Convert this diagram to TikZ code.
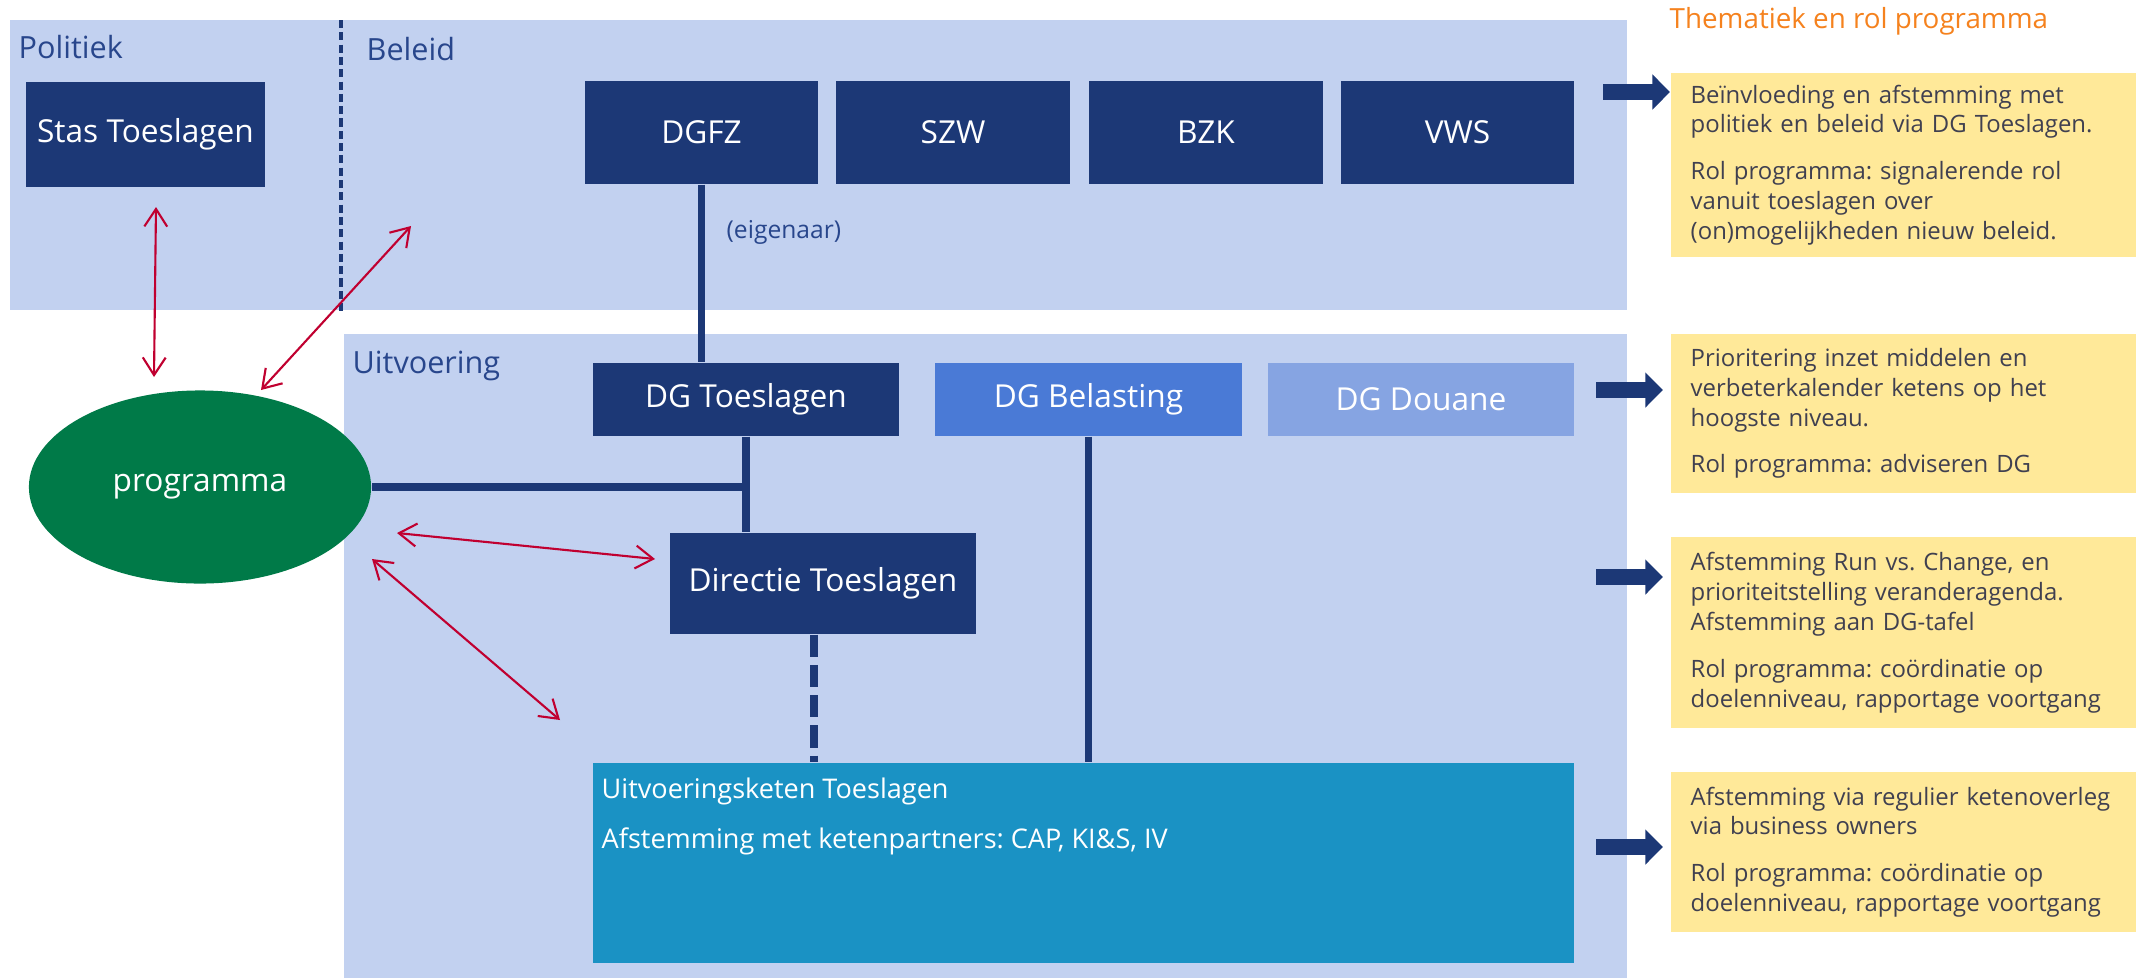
\documentclass[tikz,border=0pt]{standalone}
\usepackage{fontspec}
\setmainfont{Open Sans}
\usepackage{xcolor}
\usetikzlibrary{shapes.geometric,arrows.meta}
\definecolor{bandblue}{RGB}{194,209,240}
\definecolor{navy}{RGB}{28,56,118}
\definecolor{belblue}{RGB}{74,122,214}
\definecolor{doublue}{RGB}{134,164,226}
\definecolor{ketenblue}{RGB}{26,146,196}
\definecolor{proggreen}{RGB}{0,122,72}
\definecolor{arrowred}{RGB}{192,0,48}
\definecolor{geel}{RGB}{255,233,153}
\definecolor{geeltext}{RGB}{64,64,80}
\definecolor{titleorange}{RGB}{245,130,30}
\definecolor{labelblue}{RGB}{40,70,140}
\frenchspacing

\begin{document}
\begin{tikzpicture}[x=0.01cm, y=-0.01cm,
  box/.style={rectangle, fill=navy, text=white, inner sep=0pt, minimum height=1.03cm, font=\fontsize{9}{11}\selectfont},
  dgbox/.style={rectangle, text=white, inner sep=0pt, minimum width=3.06cm, minimum height=0.73cm, font=\fontsize{9}{11}\selectfont},
  lbl/.style={anchor=base west, inner sep=0pt, text=labelblue, font=\fontsize{8.7}{10}\selectfont},
  geel/.style={rectangle, fill=geel, anchor=west, text=geeltext, inner xsep=0.2cm, inner ysep=0pt, minimum width=4.66cm, text width=4.26cm, align=left, font=\fontsize{6.8}{8.5}\selectfont},
  lijn/.style={navy, line width=2pt},
  rood/.style={arrowred, line width=0.6pt, {Straight Barb[length=5pt,width=6.5pt]}-{Straight Barb[length=5pt,width=6.5pt]}},
  pijl/.style={navy, line width=4.5pt, -{Triangle[length=5pt,width=9.7pt]}}]
  \useasboundingbox (0,0) rectangle (2136,978);

  % achtergrond
  \fill[bandblue] (10,20) rectangle (1627,310);
  \fill[bandblue] (344,334) rectangle (1627,978);
  \draw[navy, line width=1.1pt, dash pattern=on 2.3pt off 1.2pt] (341,20) -- (341,312);

  \node[lbl] (politiek) at (18,58) {Politiek};
  \node[lbl] (beleid) at (366,60) {Beleid};
  \node[lbl] (uitvoering) at (352,373) {Uitvoering};
  \node[anchor=base west, inner sep=0pt, text=titleorange, font=\fontsize{7.9}{9}\selectfont] (titel) at (1669,28) {Thematiek en rol programma};

  % politiek en beleid
  \node[box, minimum width=2.39cm, minimum height=1.05cm] (stas) at (145.5,134.5) {Stas Toeslagen};
  \node[box, minimum width=2.33cm] (dgfz) at (701.5,132.5) {DGFZ};
  \node[box, minimum width=2.33cm] (szw) at (953,132.5) {SZW};
  \node[box, minimum width=2.33cm] (bzk) at (1206,132.5) {BZK};
  \node[box, minimum width=2.33cm] (vws) at (1457.5,132.5) {VWS};
  \node[anchor=west, inner sep=0pt, text=labelblue, font=\fontsize{7}{8}\selectfont] (eigenaar) at (726,232) {(eigenaar)};

  % uitvoering
  \node[dgbox, fill=navy] (dgtoes) at (746,399.5) {DG Toeslagen};
  \node[dgbox, fill=belblue] (dgbel) at (1088.5,399.5) {DG Belasting};
  \node[dgbox, fill=doublue] (dgdou) at (1421,399.5) {DG Douane};
  \node[box, minimum width=3.06cm, minimum height=1.01cm] (directie) at (823,583.5) {Directie Toeslagen};
  \node[rectangle, fill=ketenblue, inner sep=0pt, minimum width=9.81cm, minimum height=2cm] (keten) at (1083.5,863) {};
  \node[anchor=base west, inner sep=0pt, text=white, font=\fontsize{7.7}{9}\selectfont] (ketennaam) at (601,798) {Uitvoeringsketen Toeslagen};
  \node[anchor=base west, inner sep=0pt, text=white, font=\fontsize{7.7}{9}\selectfont] (ketentekst) at (601,848) {Afstemming met ketenpartners: CAP, KI\&S, IV};

  \node[ellipse, fill=proggreen, text=white, inner sep=0pt, minimum width=3.42cm, minimum height=1.93cm, font=\fontsize{9}{11}\selectfont] (prog) at (200,487) {programma};

  % lijnen
  \draw[lijn] (dgfz.south) -- (dgfz.south |- dgtoes.north);
  \draw[lijn] (dgtoes.south) -- (dgtoes.south |- directie.north);
  \draw[lijn] (prog.east) -- (prog.east -| dgtoes.south);
  \draw[lijn] (dgbel.south) -- (dgbel.south |- keten.north);
  \coordinate (dstart) at ([xshift=-0.09cm]directie.south);
  \draw[lijn, dash pattern=on 6.3pt off 2.3pt] (dstart) -- (dstart |- keten.north);

  % rode pijlen
  \coordinate (r1a) at (156,207);
  \coordinate (r1b) at (154,377);
  \coordinate (r2a) at (261,390);
  \coordinate (r2b) at (411,226);
  \coordinate (r3a) at (397,533);
  \coordinate (r3b) at (655,559);
  \coordinate (r4a) at (372,559);
  \coordinate (r4b) at (560,720);
  \draw[rood] (r1a) -- (r1b);
  \draw[rood] (r2a) -- (r2b);
  \draw[rood] (r3a) -- (r3b);
  \draw[rood] (r4a) -- (r4b);

  % thematiek
  \node[geel, minimum height=1.84cm] (geel1) at (1670,165) {Beïnvloeding en afstemming met\\ politiek en beleid via DG Toeslagen.\\[4.8pt] Rol programma: signalerende rol\\ vanuit toeslagen over\\ (on)mogelijkheden nieuw beleid.};
  \node[geel, minimum height=1.59cm] (geel2) at (1670,413.5) {Prioritering inzet middelen en\\ verbeterkalender ketens op het\\ hoogste niveau.\\[4.8pt] Rol programma: adviseren DG};
  \node[geel, minimum height=1.91cm] (geel3) at (1670,632.5) {Afstemming Run vs. Change, en\\ prioriteitstelling veranderagenda.\\ Afstemming aan DG-tafel\\[4.8pt] Rol programma: coördinatie op\\ doelenniveau, rapportage voortgang};
  \node[geel, minimum height=1.60cm] (geel4) at (1670,852) {Afstemming via regulier ketenoverleg\\ via business owners\\[4.8pt] Rol programma: coördinatie op\\ doelenniveau, rapportage voortgang};

  \coordinate (p1) at (1603,92);
  \coordinate (p2) at (1596,390);
  \coordinate (p3) at (1596,577);
  \coordinate (p4) at (1596,847);
  \draw[pijl] (p1) -- (p1 -| geel1.west);
  \draw[pijl, shorten >=2pt] (p2) -- (p2 -| geel2.west);
  \draw[pijl, shorten >=2pt] (p3) -- (p3 -| geel3.west);
  \draw[pijl, shorten >=2pt] (p4) -- (p4 -| geel4.west);
\end{tikzpicture}
\end{document}
